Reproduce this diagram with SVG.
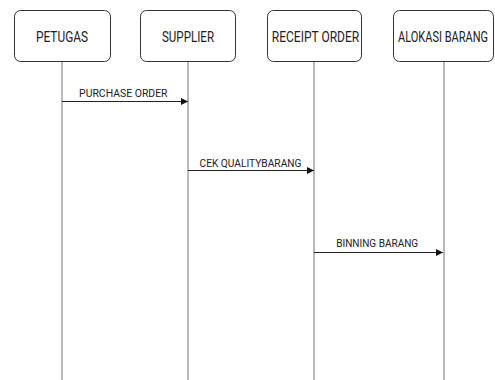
<svg xmlns="http://www.w3.org/2000/svg" width="495" height="380" viewBox="0 0 495 380">
  <style>
    .box { fill: #ffffff; stroke: #333333; stroke-width: 1; }
    .life { stroke: #8a8a8a; stroke-width: 1.2; fill: none; }
    .msg { stroke: #222222; stroke-width: 1; fill: none; }
    .title { font-family: Roboto, "Liberation Sans", Arial, sans-serif; font-size: 11px; fill: #222222; text-anchor: middle; }
    .label { font-family: Roboto, "Liberation Sans", Arial, sans-serif; font-size: 11.5px; fill: #222222; text-anchor: middle; }
  </style>
  <defs>
    <marker id="arrow" markerWidth="8" markerHeight="8" refX="7" refY="4" orient="auto" markerUnits="userSpaceOnUse">
      <path d="M0,0.5 L7,4 L0,7.5 Z" fill="#111111"/>
    </marker>
  </defs>
  <rect width="495" height="380" fill="#ffffff"/>

  <!-- lifelines -->
  <g id="lifelines">
    <line class="life" x1="62" y1="61" x2="62" y2="380"/>
    <line class="life" x1="188" y1="61" x2="188" y2="380"/>
    <line class="life" x1="314" y1="61" x2="314" y2="380"/>
    <line class="life" x1="444" y1="61" x2="444" y2="380"/>
  </g>

  <!-- participant headers: tall, narrow caption text -->
  <g id="petugas">
    <rect class="box" x="14.5" y="10.5" width="96" height="51" rx="6"/>
    <text class="title" transform="translate(62 41.7) scale(1 1.27)" textLength="52" lengthAdjust="spacingAndGlyphs">PETUGAS</text>
  </g>
  <g id="supplier">
    <rect class="box" x="140.5" y="10.5" width="95" height="51" rx="6"/>
    <text class="title" transform="translate(188 41.7) scale(1 1.27)" textLength="52" lengthAdjust="spacingAndGlyphs">SUPPLIER</text>
  </g>
  <g id="receipt-order">
    <rect class="box" x="267.5" y="10.5" width="94" height="51" rx="6"/>
    <text class="title" transform="translate(315.5 41.7) scale(1 1.27)" textLength="87.5" lengthAdjust="spacingAndGlyphs">RECEIPT ORDER</text>
  </g>
  <g id="alokasi-barang">
    <rect class="box" x="393.5" y="10.5" width="100" height="51" rx="6"/>
    <text class="title" transform="translate(443 41.7) scale(1 1.27)" textLength="90" lengthAdjust="spacingAndGlyphs">ALOKASI BARANG</text>
  </g>

  <!-- messages -->
  <g id="connectors">
    <line class="msg" x1="62" y1="101.5" x2="188" y2="101.5" marker-end="url(#arrow)"/>
    <text class="label" x="123.3" y="96.7" textLength="88.5" lengthAdjust="spacingAndGlyphs">PURCHASE ORDER</text>
    <line class="msg" x1="188" y1="170.5" x2="314" y2="170.5" marker-end="url(#arrow)"/>
    <text class="label" x="250.5" y="167.3" textLength="102" lengthAdjust="spacingAndGlyphs">CEK QUALITYBARANG</text>
    <line class="msg" x1="314" y1="252.5" x2="443" y2="252.5" marker-end="url(#arrow)"/>
    <text class="label" x="377.2" y="246.7" textLength="82" lengthAdjust="spacingAndGlyphs">BINNING BARANG</text>
  </g>
</svg>
